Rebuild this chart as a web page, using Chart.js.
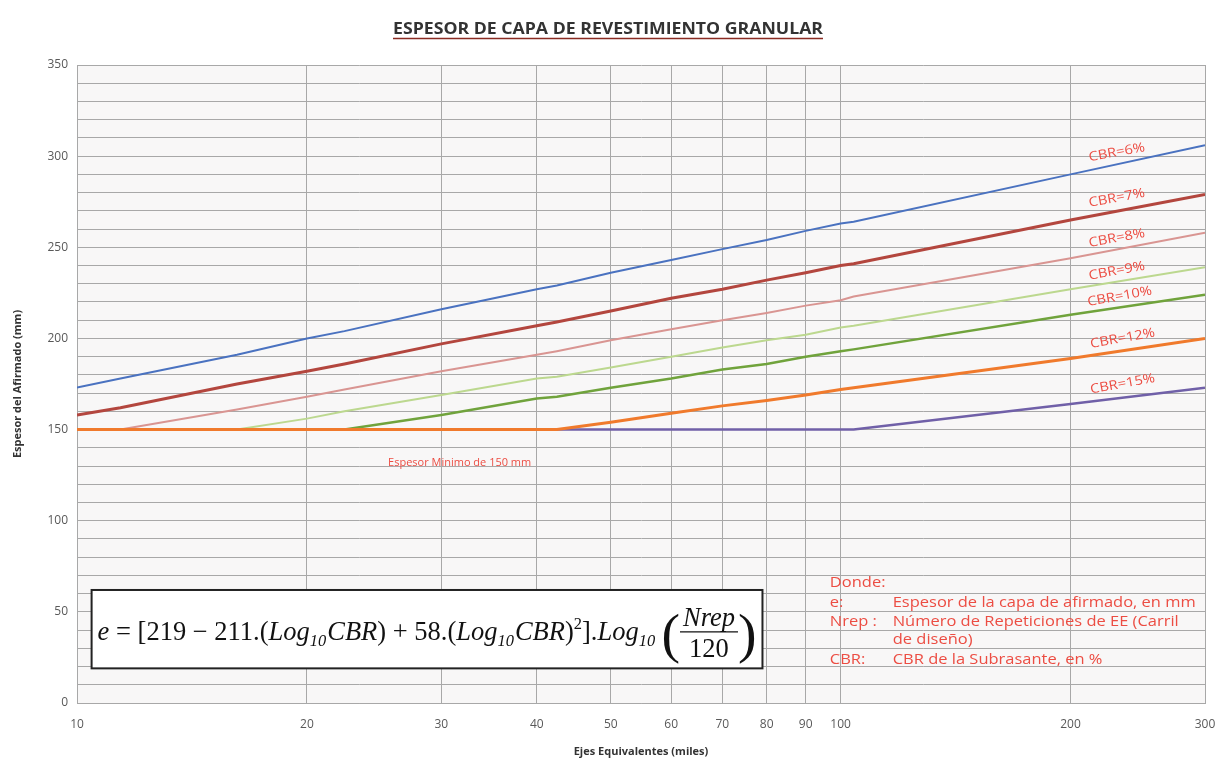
<!DOCTYPE html>
<html>
<head>
<meta charset="utf-8">
<script src="https://cdn.jsdelivr.net/npm/chart.js@4.4.1/dist/chart.umd.min.js"></script>
<style>
  html, body { margin: 0; padding: 0; background: #fff; }
  #wrap { width: 1216px; height: 758px; }
</style>
</head>
<body>
<div id="wrap"><canvas id="chart-canvas" width="1216" height="758"></canvas></div>
<script>
// ejes equivalentes (miles) where the curves were read
const nValues = [10, 11.4, 16.2, 20, 22.4, 30, 40, 42.5, 50, 60, 70, 80, 90, 100, 104, 200, 300];

const cbr6 = [173, 178, 191, 200, 204, 216, 227, 229, 236, 243, 249, 254, 259, 263, 264, 290, 306];
const cbr7 = [158, 162, 175, 182, 186, 197, 207, 209, 215, 222, 227, 232, 236, 240, 241, 265, 279];
const cbr8 = [150, 150, 161, 168, 172, 182, 191, 193, 199, 205, 210, 214, 218, 221, 223, 244, 258];
const cbr9 = [150, 150, 150, 156, 160, 169, 178, 179, 184, 190, 195, 199, 202, 206, 207, 227, 239];
const cbr10 = [150, 150, 150, 150, 150, 158, 167, 168, 173, 178, 183, 186, 190, 193, 194, 213, 224];
const cbr12 = [150, 150, 150, 150, 150, 150, 150, 150, 154, 159, 163, 166, 169, 172, 173, 189, 200];
const cbr15 = [150, 150, 150, 150, 150, 150, 150, 150, 150, 150, 150, 150, 150, 150, 150, 164, 173];

const seriesLabels = ['CBR=6%', 'CBR=7%', 'CBR=8%', 'CBR=9%', 'CBR=10%', 'CBR=12%', 'CBR=15%'];
const xTickValues = [10, 20, 30, 40, 50, 60, 70, 80, 90, 100, 200, 300];

const RED = '#ec4d43';
const GRID = '#a8a8a8';
const SANS = '"Open Sans", "Liberation Sans", sans-serif';

function points(ys) {
  return nValues.map((n, i) => ({ x: n, y: ys[i] }));
}

// label anchors in data units (N, mm)
const labelSpots = [
  [230, 302], [230, 277], [230, 255], [230, 237], [232, 223], [234, 200], [234, 175],
];

// draw text squeezed/stretched horizontally by factor sx
function stretchText(ctx, text, x, y, sx) {
  ctx.save();
  ctx.translate(x, y);
  ctx.scale(sx, 1);
  ctx.fillText(text, 0, 0);
  ctx.restore();
}

function drawFormula(ctx, x, y, size, draw) {
  const serif = '"Liberation Serif", "DejaVu Serif", serif';
  const f = (style, s) => `${style} ${s}px ${serif}`;
  const parts = [
    ['e', 'i'], [' = [219 \u2212 211.(', 'r'], ['Log', 'i'], ['10', 'sub'], ['CBR', 'i'],
    [') + 58.(', 'r'], ['Log', 'i'], ['10', 'sub'], ['CBR', 'i'], [')', 'r'], ['2', 'sup'],
    ['].', 'r'], ['Log', 'i'], ['10', 'sub'],
  ];
  let cx = x;
  ctx.fillStyle = '#111';
  ctx.textBaseline = 'alphabetic';
  ctx.textAlign = 'left';
  for (const [t, k] of parts) {
    let dy = 0;
    if (k === 'i') ctx.font = f('italic', size);
    else if (k === 'r') ctx.font = f('normal', size);
    else if (k === 'sub') { ctx.font = f('italic', size * 0.62); dy = size * 0.22; }
    else { ctx.font = f('normal', size * 0.62); dy = -size * 0.42; }
    if (draw) ctx.fillText(t, cx, y + dy);
    cx += ctx.measureText(t).width + (k === 'sub' ? 1 : 0);
  }
  cx += size * 0.2;
  // big parentheses and fraction
  ctx.font = f('normal', size * 2.1);
  const pw = ctx.measureText('(').width;
  if (draw) ctx.fillText('(', cx, y + size * 0.45);
  cx += pw;
  ctx.font = f('italic', size);
  const nw = ctx.measureText('Nrep').width;
  ctx.font = f('normal', size);
  const dw = ctx.measureText('120').width;
  const fw = Math.max(nw, dw) + 6;
  if (draw) {
    const lineY = y - size * 0.3;
    ctx.font = f('italic', size);
    ctx.fillText('Nrep', cx + (fw - nw) / 2, lineY - size * 0.22);
    ctx.font = f('normal', size);
    ctx.fillText('120', cx + (fw - dw) / 2, lineY + size * 0.95);
    ctx.strokeStyle = '#111';
    ctx.lineWidth = 1.2;
    ctx.beginPath();
    ctx.moveTo(cx, lineY);
    ctx.lineTo(cx + fw, lineY);
    ctx.stroke();
  }
  cx += fw;
  ctx.font = f('normal', size * 2.1);
  if (draw) ctx.fillText(')', cx, y + size * 0.45);
  cx += pw;
  return cx - x;
}

const decorations = {
  id: 'decorations',
  beforeDraw(chart) {
    const { ctx, chartArea: a } = chart;
    ctx.save();
    ctx.fillStyle = '#f8f7f7';
    ctx.fillRect(a.left, a.top, a.right - a.left, a.bottom - a.top);
    ctx.restore();
  },
  afterDatasetsDraw(chart) {
    const { ctx } = chart;
    const xs = chart.scales.x;
    const ys = chart.scales.y;
    const px = (n) => xs.getPixelForValue(n);
    const py = (v) => ys.getPixelForValue(v);
    ctx.save();

    // title, underlined
    ctx.font = `bold 16px ${SANS}`;
    ctx.fillStyle = '#333';
    ctx.textAlign = 'left';
    ctx.textBaseline = 'alphabetic';
    const title = 'ESPESOR DE CAPA DE REVESTIMIENTO GRANULAR';
    const tw = 430;
    const tsx = tw / ctx.measureText(title).width;
    stretchText(ctx, title, 608 - tw / 2, 34, tsx);
    ctx.strokeStyle = '#8a2b22';
    ctx.lineWidth = 1.5;
    ctx.beginPath();
    ctx.moveTo(608 - tw / 2, 38.5);
    ctx.lineTo(608 + tw / 2, 38.5);
    ctx.stroke();

    // curve labels
    ctx.font = `13px ${SANS}`;
    ctx.fillStyle = RED;
    const lsx = 57 / ctx.measureText(seriesLabels[0]).width;
    seriesLabels.forEach((lab, i) => {
      const [n, v] = labelSpots[i];
      ctx.save();
      ctx.translate(px(n), py(v));
      ctx.rotate(-0.18);
      ctx.scale(lsx, 1);
      ctx.textAlign = 'center';
      ctx.textBaseline = 'middle';
      ctx.fillText(lab, 0, 0);
      ctx.restore();
    });

    // minimum thickness note
    ctx.font = `11px ${SANS}`;
    ctx.textAlign = 'center';
    ctx.textBaseline = 'middle';
    ctx.fillText('Espesor Minimo de 150 mm', px(31.7), py(132));

    // formula box
    const bx0 = px(10.45), bx1 = px(79), by0 = py(62), by1 = py(19);
    ctx.fillStyle = '#fff';
    ctx.fillRect(bx0, by0, bx1 - bx0, by1 - by0);
    ctx.strokeStyle = '#222';
    ctx.lineWidth = 2;
    ctx.strokeRect(bx0, by0, bx1 - bx0, by1 - by0);
    const target = bx1 - bx0 - 12;
    const w0 = drawFormula(ctx, 0, 0, 28, false);
    const size = 28 * target / w0;
    drawFormula(ctx, bx0 + 6, (by0 + by1) / 2 + size * 0.4, size, true);

    // legend of terms
    ctx.fillStyle = RED;
    ctx.font = `14.5px ${SANS}`;
    ctx.textAlign = 'left';
    ctx.textBaseline = 'middle';
    const dsx = 303 / ctx.measureText('Espesor de la capa de afirmado, en mm').width;
    const c1 = px(96.8), c2 = px(117);
    stretchText(ctx, 'Donde:', c1, py(65.8), dsx);
    stretchText(ctx, 'e:', c1, py(54.9), dsx);
    stretchText(ctx, 'Espesor de la capa de afirmado, en mm', c2, py(54.9), dsx);
    stretchText(ctx, 'Nrep :', c1, py(44.4), dsx);
    stretchText(ctx, 'Número de Repeticiones de EE (Carril', c2, py(44.4), dsx);
    stretchText(ctx, 'de diseño)', c2, py(34.6), dsx);
    stretchText(ctx, 'CBR:', c1, py(23.6), dsx);
    stretchText(ctx, 'CBR de la Subrasante, en %', c2, py(23.6), dsx);

    ctx.restore();
  },
};

function createChart() {
  const canvas = document.getElementById('chart-canvas');

  const styles = [
    { c: '#4a72c0', w: 2, o: 6 },
    { c: '#b3463e', w: 3, o: 5 },
    { c: '#d99592', w: 2, o: 4 },
    { c: '#bcd88f', w: 2, o: 3 },
    { c: '#70a33c', w: 2.5, o: 2 },
    { c: '#f07a2c', w: 3, o: 0 },
    { c: '#7060a8', w: 2.5, o: 1 },
  ];
  const series = [cbr6, cbr7, cbr8, cbr9, cbr10, cbr12, cbr15];

  const options = {
    type: 'scatter',
    data: {
      datasets: series.map((ys, i) => ({
        label: seriesLabels[i],
        data: points(ys),
        showLine: true,
        borderColor: styles[i].c,
        backgroundColor: styles[i].c,
        borderWidth: styles[i].w,
        pointRadius: 0,
        order: styles[i].o,
      })),
    },
    options: {
      responsive: false,
      animation: false,
      layout: { padding: { top: 65, right: 11, left: 0, bottom: 0 } },
      plugins: {
        legend: { display: false },
        tooltip: { enabled: false },
      },
      scales: {
        x: {
          type: 'logarithmic',
          min: 10,
          max: 300,
          afterBuildTicks: (s) => { s.ticks = xTickValues.map((v) => ({ value: v })); },
          afterFit: (s) => {
            s.height = 55;
            s.paddingLeft = 0;
            s.paddingRight = 0;
          },
          ticks: {
            autoSkip: false,
            maxRotation: 0,
            padding: 14,
            color: '#595959',
            font: { size: 12, family: SANS },
            callback: (v) => String(v),
          },
          grid: { color: GRID, drawTicks: false },
          border: { color: GRID },
          title: {
            display: true,
            text: 'Ejes Equivalentes (miles)',
            color: '#333',
            font: { size: 11, weight: 'bold', family: SANS },
            padding: { top: 4, bottom: 0 },
          },
        },
        y: {
          min: 0,
          max: 350,
          afterFit: (s) => { s.width = 77; },
          ticks: {
            stepSize: 10,
            autoSkip: false,
            padding: 9,
            color: '#595959',
            font: { size: 12, family: SANS },
            callback: (v) => (v % 50 === 0 ? String(v) : ''),
          },
          grid: { color: GRID, drawTicks: false },
          border: { color: GRID },
          title: {
            display: true,
            text: 'Espesor del Afirmado (mm)',
            color: '#333',
            font: { size: 11, weight: 'bold', family: SANS },
            padding: { top: 11, bottom: 0 },
          },
        },
      },
    },
    plugins: [decorations],
  };

  new Chart(canvas, options);
}

document.addEventListener('DOMContentLoaded', createChart);
</script>
</body>
</html>
